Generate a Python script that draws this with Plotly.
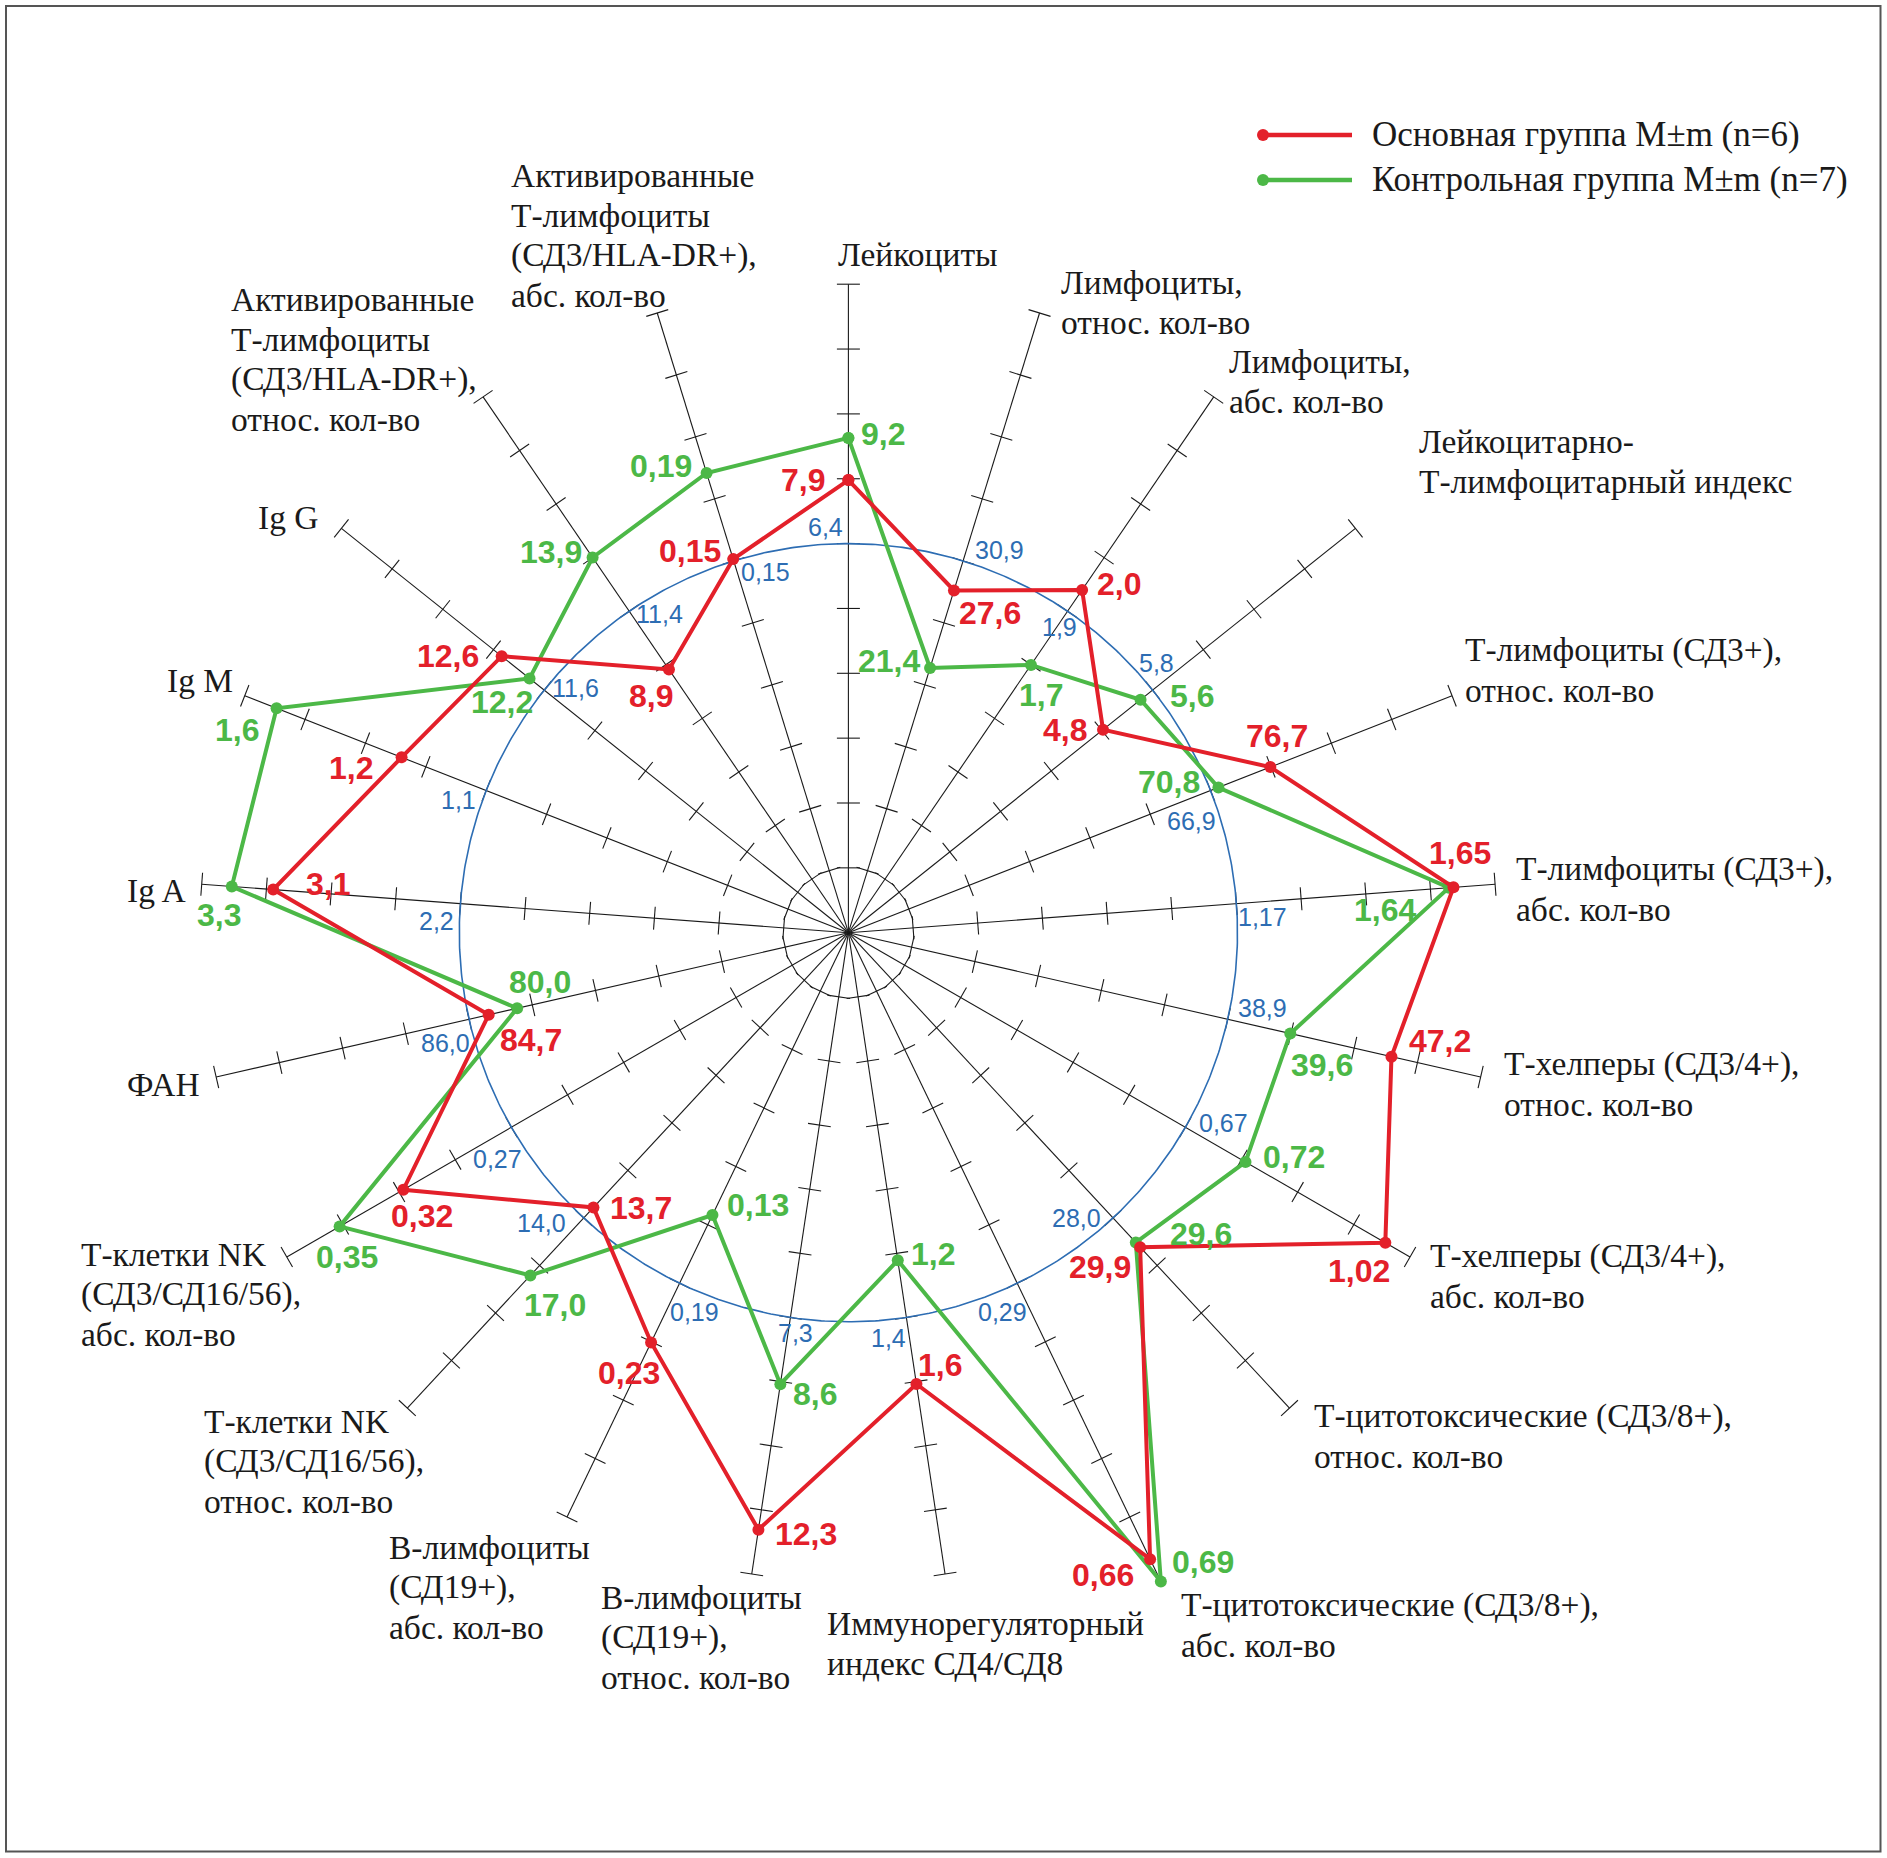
import math
import plotly.graph_objects as go

# ---------------- data ----------------
categories = [
    "Лейкоциты",
    "Лимфоциты,<br>относ. кол-во",
    "Лимфоциты,<br>абс. кол-во",
    "Лейкоцитарно-<br>Т-лимфоцитарный индекс",
    "Т-лимфоциты (СД3+),<br>относ. кол-во",
    "Т-лимфоциты (СД3+),<br>абс. кол-во",
    "Т-хелперы (СД3/4+),<br>относ. кол-во",
    "Т-хелперы (СД3/4+),<br>абс. кол-во",
    "Т-цитотоксические (СД3/8+),<br>относ. кол-во",
    "Т-цитотоксические (СД3/8+),<br>абс. кол-во",
    "Иммунорегуляторный<br>индекс СД4/СД8",
    "В-лимфоциты<br>(СД19+),<br>относ. кол-во",
    "В-лимфоциты<br>(СД19+),<br>абс. кол-во",
    "Т-клетки NK<br>(СД3/СД16/56),<br>относ. кол-во",
    "Т-клетки NK<br>(СД3/СД16/56),<br>абс. кол-во",
    "ФАН",
    "Ig A",
    "Ig M",
    "Ig G",
    "Активированные<br>Т-лимфоциты<br>(СД3/HLA-DR+),<br>относ. кол-во",
    "Активированные<br>Т-лимфоциты<br>(СД3/HLA-DR+),<br>абс. кол-во",
]
norm_values = [6.4, 30.9, 1.9, 5.8, 66.9, 1.17, 38.9, 0.67, 28.0, 0.29, 1.4,
               7.3, 0.19, 14.0, 0.27, 86.0, 2.2, 1.1, 11.6, 11.4, 0.15]
main_values = [7.9, 27.6, 2.0, 4.8, 76.7, 1.65, 47.2, 1.02, 29.9, 0.66, 1.6,
               12.3, 0.23, 13.7, 0.32, 84.7, 3.1, 1.2, 12.6, 8.9, 0.15]
control_values = [9.2, 21.4, 1.7, 5.6, 70.8, 1.64, 39.6, 0.72, 29.6, 0.69, 1.2,
                  8.6, 0.13, 17.0, 0.35, 80.0, 3.3, 1.6, 12.2, 13.9, 0.19]
decimals = [1, 1, 1, 1, 1, 2, 1, 2, 1, 2, 1, 1, 2, 1, 2, 1, 1, 1, 1, 1, 2]
series_names = ["Основная группа M±m (n=6)", "Контрольная группа M±m (n=7)"]

# per-axis scale: value at centre (lo) and at the axis tip (hi, 10 ticks)
axis_lo = [-6.06, 0.22, 0.629, -0.627, 28.75, 0.3128, 6.4, -0.132, 9.70, -0.1803, 0.141,
           -2.875, -0.0916, 0.36, 0.1103, 25.3, 0.3195, -0.230, 7.625, -2.85, -0.0235]
axis_hi = [13.94, 49.8, 2.772, 10.18, 97.35, 1.742, 53.9, 1.073, 40.24, 0.6034, 2.214,
           13.425, 0.367, 23.44, 0.3749, 129.7, 3.4455, 1.702, 14.90, 21.07, 0.2643]
N_TICKS = 10
NORM_TICK = 6

# ---------------- layout helpers ----------------
W, H = 1887, 1858
CX, CY = 848.4, 932.7
U = 64.85  # pixels per tick

RED = "#e3202a"
GREEN = "#4cb847"
BLUE = "#2d6db3"
SERIF = "Liberation Serif, Times New Roman, serif"
SANS = "Liberation Sans, Arial, sans-serif"

def px2data(px, py):
    return (px - CX) / U, (CY - py) / U

n = len(categories)
theta = [2 * math.pi * i / n for i in range(n)]

def to_t(i, v):
    return (v - axis_lo[i]) / (axis_hi[i] - axis_lo[i]) * N_TICKS

def xy(i, t):
    return t * math.sin(theta[i]), t * math.cos(theta[i])

def fmt(v, d):
    return f"{v:.{d}f}".replace(".", ",")

fig = go.Figure()

# axes lines
ax_x, ax_y = [], []
for i in range(n):
    L = max(N_TICKS, to_t(i, main_values[i]), to_t(i, control_values[i]))
    x1, y1 = xy(i, L)
    ax_x += [0, x1, None]
    ax_y += [0, y1, None]
fig.add_trace(go.Scatter(x=ax_x, y=ax_y, mode="lines",
                         line=dict(color="#1a1a1a", width=1.1), hoverinfo="skip", showlegend=False))

# ticks
h = 11.5 / U
tk_x, tk_y = [], []
for i in range(n):
    px_, py_ = math.cos(theta[i]), -math.sin(theta[i])
    for k in range(1, N_TICKS + 1):
        x0, y0 = xy(i, k)
        tk_x += [x0 - h * px_, x0 + h * px_, None]
        tk_y += [y0 - h * py_, y0 + h * py_, None]
fig.add_trace(go.Scatter(x=tk_x, y=tk_y, mode="lines",
                         line=dict(color="#1a1a1a", width=1.1), hoverinfo="skip", showlegend=False))

# norm ring (norm of every axis sits on tick NORM_TICK)
ring = [2 * math.pi * j / 720 for j in range(721)]
fig.add_trace(go.Scatter(x=[NORM_TICK * math.sin(a) for a in ring],
                         y=[NORM_TICK * math.cos(a) for a in ring], mode="lines",
                         line=dict(color=BLUE, width=1.6), hoverinfo="skip", showlegend=False))

# series
for vals, col in ((control_values, GREEN), (main_values, RED)):
    pts = [xy(i, to_t(i, vals[i])) for i in range(n)]
    pts.append(pts[0])
    fig.add_trace(go.Scatter(x=[p[0] for p in pts], y=[p[1] for p in pts], mode="lines+markers",
                             line=dict(color=col, width=4), marker=dict(color=col, size=12),
                             hoverinfo="skip", showlegend=False))

ann = []

# value labels (offset in screen pixels from the point)
main_off = [(-45, 0), (36, 23), (37, -6), (-38, 0), (7, -31), (7, -34), (49, -16), (-26, 28),
            (-40, 20), (-47, 16), (24, -19), (48, 4), (-22, 31), (48, 1), (19, 26), (42, 25),
            (55, -6), (-51, 11), (-54, 0), (-18, 26), (-43, -8)]
ctrl_off = [(35, -4), (-41, -7), (10, 30), (51, -4), (-49, -5), (-64, 22), (32, 31), (49, -5),
            (65, -8), (42, -20), (35, -6), (35, 10), (46, -10), (25, 30), (7, 31), (23, -26),
            (-13, 29), (-40, 22), (-28, 24), (-42, -5), (-46, -7)]
for vals, offs, col in ((main_values, main_off, RED), (control_values, ctrl_off, GREEN)):
    for i in range(n):
        x0, y0 = xy(i, to_t(i, vals[i]))
        ann.append(dict(x=x0, y=y0, xref="x", yref="y", text="<b>" + fmt(vals[i], decimals[i]) + "</b>",
                        showarrow=False, xanchor="center", yanchor="middle",
                        xshift=offs[i][0], yshift=-offs[i][1],
                        font=dict(family=SANS, size=32, color=col)))

# norm labels
norm_pos = [(825.5, 527), (999, 550), (1059, 627), (1156, 663), (1191, 821), (1262, 917),
            (1262, 1008), (1223, 1123), (1076, 1218), (1002, 1312), (888, 1338), (795, 1333),
            (694, 1312), (541, 1223), (497, 1159), (445, 1043), (436, 921), (458, 800),
            (575, 688), (659, 614), (765, 572)]
for i in range(n):
    x0, y0 = px2data(*norm_pos[i])
    ann.append(dict(x=x0, y=y0, xref="x", yref="y", text=fmt(norm_values[i], decimals[i]),
                    showarrow=False, xanchor="center", yanchor="middle",
                    font=dict(family=SANS, size=25, color=BLUE)))

# category labels (left edge, vertical centre of the block); one annotation per line
cat_pos = [(836, 254), (1059, 302), (1227, 381), (1417, 461), (1463, 670), (1514, 889),
           (1502, 1084), (1428, 1276), (1312, 1436), (1179, 1625), (825, 1643), (599, 1637),
           (387, 1587), (202, 1461), (79, 1294), (125, 1084), (125, 890), (165, 680),
           (256, 517), (229, 359), (509, 235)]
LINE_H = 40
for i in range(n):
    lines = categories[i].split("<br>")
    m = len(lines)
    for j, ln in enumerate(lines):
        x0, y0 = px2data(cat_pos[i][0], cat_pos[i][1] + (j - (m - 1) / 2) * LINE_H)
        ann.append(dict(x=x0, y=y0, xref="x", yref="y", text=ln, showarrow=False,
                        xanchor="left", yanchor="middle", align="left",
                        font=dict(family=SERIF, size=33.5, color="#1a1a1a")))

# legend
shapes = []
leg_y = [135, 180]
for nm, col, ly in zip(series_names, (RED, GREEN), leg_y):
    shapes.append(dict(type="line", xref="paper", yref="paper", x0=1263 / W, x1=1352 / W,
                       y0=1 - ly / H, y1=1 - ly / H, line=dict(color=col, width=4.5)))
    shapes.append(dict(type="circle", xref="paper", yref="paper", x0=1257 / W, x1=1269 / W,
                       y0=1 - (ly + 6) / H, y1=1 - (ly - 6) / H, fillcolor=col, line=dict(width=0)))
    ann.append(dict(x=1370 / W, y=1 - ly / H, xref="paper", yref="paper", text=nm, showarrow=False,
                    xanchor="left", yanchor="middle", font=dict(family=SERIF, size=35, color="#1a1a1a")))

# frame
shapes.append(dict(type="rect", xref="paper", yref="paper", x0=6 / W, x1=1880.5 / W,
                   y0=1 - 1851.5 / H, y1=1 - 6 / H, line=dict(color="#555555", width=2)))

fig.update_layout(
    width=W, height=H, margin=dict(l=0, r=0, t=0, b=0, pad=0),
    paper_bgcolor="white", plot_bgcolor="white",
    xaxis=dict(range=[-CX / U, (W - CX) / U], visible=False, fixedrange=True),
    yaxis=dict(range=[-(H - CY) / U, CY / U], visible=False, fixedrange=True),
    annotations=ann, shapes=shapes, showlegend=False,
)

fig.write_html("out.html", config={"displayModeBar": False},
               post_script="document.body.style.margin='0';document.body.style.overflow='hidden';")
